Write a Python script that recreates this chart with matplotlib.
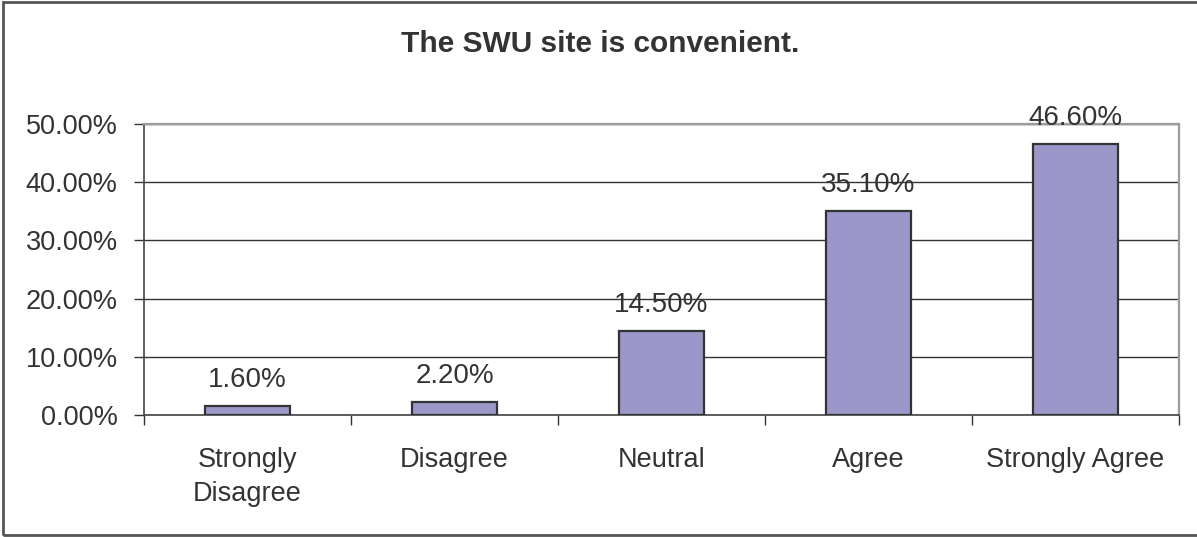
import matplotlib.pyplot as plt
from matplotlib.patches import Rectangle

categories = ["Strongly\nDisagree", "Disagree", "Neutral", "Agree", "Strongly Agree"]
percentages = [1.6, 2.2, 14.5, 35.1, 46.6]
y_ticks = [0, 10, 20, 30, 40, 50]

plt.rcParams['font.family'] = ['Liberation Sans', 'DejaVu Sans']

fig = plt.figure(figsize=(11.97, 5.37), dpi=100)
fig.patch.set_facecolor('white')

# outer chart frame
fig.patches.append(Rectangle((0.0025, 0.003), 1.2, 0.993, transform=fig.transFigure,
                             fill=False, edgecolor='#555555', linewidth=2.0))

ax = fig.add_axes([144 / 1197, 1 - 415 / 537, (1179 - 144) / 1197, (415 - 124) / 537])

x = list(range(len(categories)))
bars = ax.bar(x, percentages, width=0.41, color='#9b97c9', edgecolor='#333333',
              linewidth=1.6, zorder=3)

# value labels sit a fixed distance above each bar
for xi, v in zip(x, percentages):
    ax.annotate(f"{v:.2f}%", (xi, v), xytext=(0, 13.5), textcoords='offset points',
                ha='center', va='baseline', fontsize=20, color='#333333', zorder=4)

ax.set_xlim(-0.5, len(categories) - 0.5)
ax.set_ylim(0, 50)
ax.set_yticks(y_ticks)
ax.set_yticklabels([f"{t:.2f}%" for t in y_ticks], fontsize=19.5, color='#333333')
ax.yaxis.grid(True, color='#333333', linewidth=1.0, zorder=0)

# category labels centred, ticks at the category boundaries
ax.set_xticks(x)
ax.set_xticklabels(categories, fontsize=19.5, color='#333333', linespacing=1.4)
ax.tick_params(axis='x', length=0, pad=23)
ax.set_xticks([i - 0.5 for i in range(len(categories) + 1)], minor=True)
ax.tick_params(axis='x', which='minor', length=7, width=1, color='#333333', direction='out')
ax.tick_params(axis='y', length=7, width=1, color='#333333', direction='out', pad=12)

for side in ['top', 'right']:
    ax.spines[side].set_color('#a09a9a')
    ax.spines[side].set_linewidth(1.6)
for side in ['left', 'bottom']:
    ax.spines[side].set_color('#444444')
    ax.spines[side].set_linewidth(1.2)

fig.text(600 / 1197, 1 - 44 / 537, "The SWU site is convenient.", ha='center', va='center',
         fontsize=21.5, fontweight='bold', color='#333333')

fig.savefig('out.png', dpi=100, facecolor='white')
